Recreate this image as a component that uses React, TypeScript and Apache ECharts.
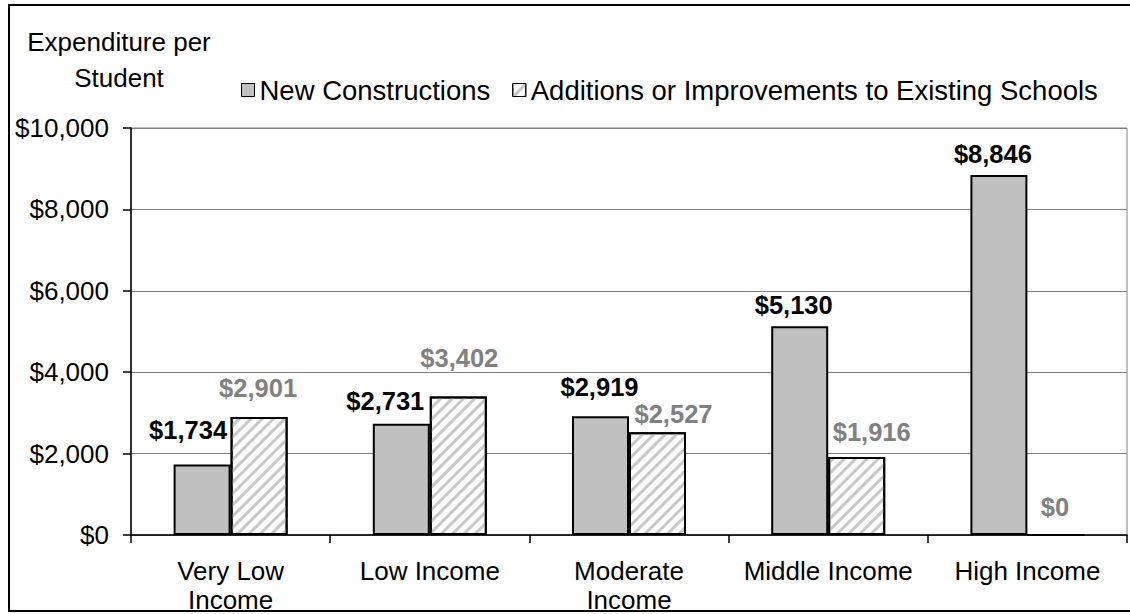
import React, { useEffect, useRef } from "react";
import * as echarts from "echarts";

const categories = ["Very Low\nIncome", "Low Income", "Moderate\nIncome", "Middle Income", "High Income"];
const newConstructions = [1734, 2731, 2919, 5130, 8846];
const additions = [2901, 3402, 2527, 1916, 0];
const seriesNames = ["New Constructions", "Additions or Improvements to Existing Schools"];
const yTicks = { min: 0, max: 10000, interval: 2000 };
const yTitle = "Expenditure per\nStudent";

// label layout nudges (pixels), kept apart from the data
const newLabelOffsets = [[-14, -24], [-16, -13], [-1, -19], [-6, -11], [-6, -11]];
const addLabelOffsets = [[-1, -19], [1, -29], [16, -8], [15, -15], [-1, -17]];

const FONT = "'Liberation Sans', Arial, Helvetica, sans-serif";

const fmt = (v: number) => "$" + v.toLocaleString("en-US");

export default function App() {
  const ref = useRef<HTMLDivElement>(null);
  useEffect(() => {
    if (!ref.current) return;
    const chart = echarts.init(ref.current, null, { renderer: "svg" });
    const labelBase = {
      show: true,
      position: "top",
      distance: 0,
      fontFamily: FONT,
      fontSize: 25.5,
      fontWeight: "bold",
      lineHeight: 20,
      formatter: (p: any) => fmt(p.value),
    };
    chart.setOption({
      animation: false,
      backgroundColor: "#fff",
      textStyle: { fontFamily: FONT },
      grid: {
        left: 131,
        right: 3,
        top: 128,
        bottom: 79,
        containLabel: false,
        outerBoundsMode: "none",
        show: true,
        borderColor: "#808080",
        borderWidth: 1,
        backgroundColor: "transparent",
      },
      legend: {
        left: 236,
        top: 71,
        itemWidth: 13,
        itemHeight: 13,
        itemGap: 22,
        icon: "rect",
        textStyle: { fontFamily: FONT, fontSize: 27.5, color: "#000" },
        itemStyle: { borderWidth: 1, borderColor: "#000" },
        data: seriesNames,
      },
      xAxis: {
        type: "category",
        data: categories,
        axisLine: { lineStyle: { color: "#000", width: 1.5 } },
        axisTick: { show: true, length: 8, lineStyle: { color: "#000", width: 1.5 } },
        axisLabel: {
          color: "#000",
          fontFamily: FONT,
          fontSize: 26,
          lineHeight: 29,
          margin: 21,
          interval: 0,
        },
      },
      yAxis: {
        type: "value",
        min: yTicks.min,
        max: yTicks.max,
        interval: yTicks.interval,
        axisLine: { show: true, lineStyle: { color: "#000", width: 1.5 } },
        axisTick: { show: true, length: 8, lineStyle: { color: "#000", width: 1.5 } },
        splitLine: { lineStyle: { color: "#808080", width: 1 } },
        axisLabel: {
          color: "#000",
          fontFamily: FONT,
          fontSize: 26,
          margin: 22,
          formatter: (v: number) => fmt(v),
        },
      },
      series: [
        {
          name: seriesNames[0],
          type: "bar",
          barWidth: 57,
          barGap: "0%",
          itemStyle: { color: "#c0c0c0", borderColor: "#000", borderWidth: 2 },
          label: { ...labelBase, color: "#000" },
          data: newConstructions.map((v, i) => ({
            value: v,
            label: { offset: newLabelOffsets[i] },
          })),
        },
        {
          name: seriesNames[1],
          type: "bar",
          barWidth: 57,
          barGap: "0%",
          itemStyle: {
            color: "#ffffff",
            borderColor: "#000",
            borderWidth: 2,
            decal: {
              symbol: "rect",
              symbolSize: 1,
              symbolKeepAspect: false,
              color: "#c8c8c8",
              dashArrayX: [1, 0],
              dashArrayY: [3, 5],
              rotation: -Math.PI / 4,
            },
          },
          label: { ...labelBase, color: "#808080" },
          data: additions.map((v, i) => ({
            value: v,
            label: { offset: addLabelOffsets[i] },
          })),
        },
      ],
      graphic: [
        {
          type: "text",
          x: 119,
          y: 24,
          style: {
            text: yTitle,
            fill: "#000",
            fontSize: 26,
            fontFamily: FONT,
            lineHeight: 36,
            textAlign: "center",
            textVerticalAlign: "top",
          },
        },
        {
          type: "rect",
          shape: { x: 9, y: 5, width: 1130, height: 606 },
          style: { fill: "none", stroke: "#000", lineWidth: 2 },
          z: 50,
        },
        {
          type: "rect",
          shape: { x: 0, y: 612, width: 1130, height: 4 },
          style: { fill: "#fff" },
          z: 100,
        },
      ],
    });
    return () => chart.dispose();
  }, []);
  return (
    <div
      ref={ref}
      style={{ position: "absolute", left: 0, top: 0, width: 1130, height: 614 }}
    />
  );
}
